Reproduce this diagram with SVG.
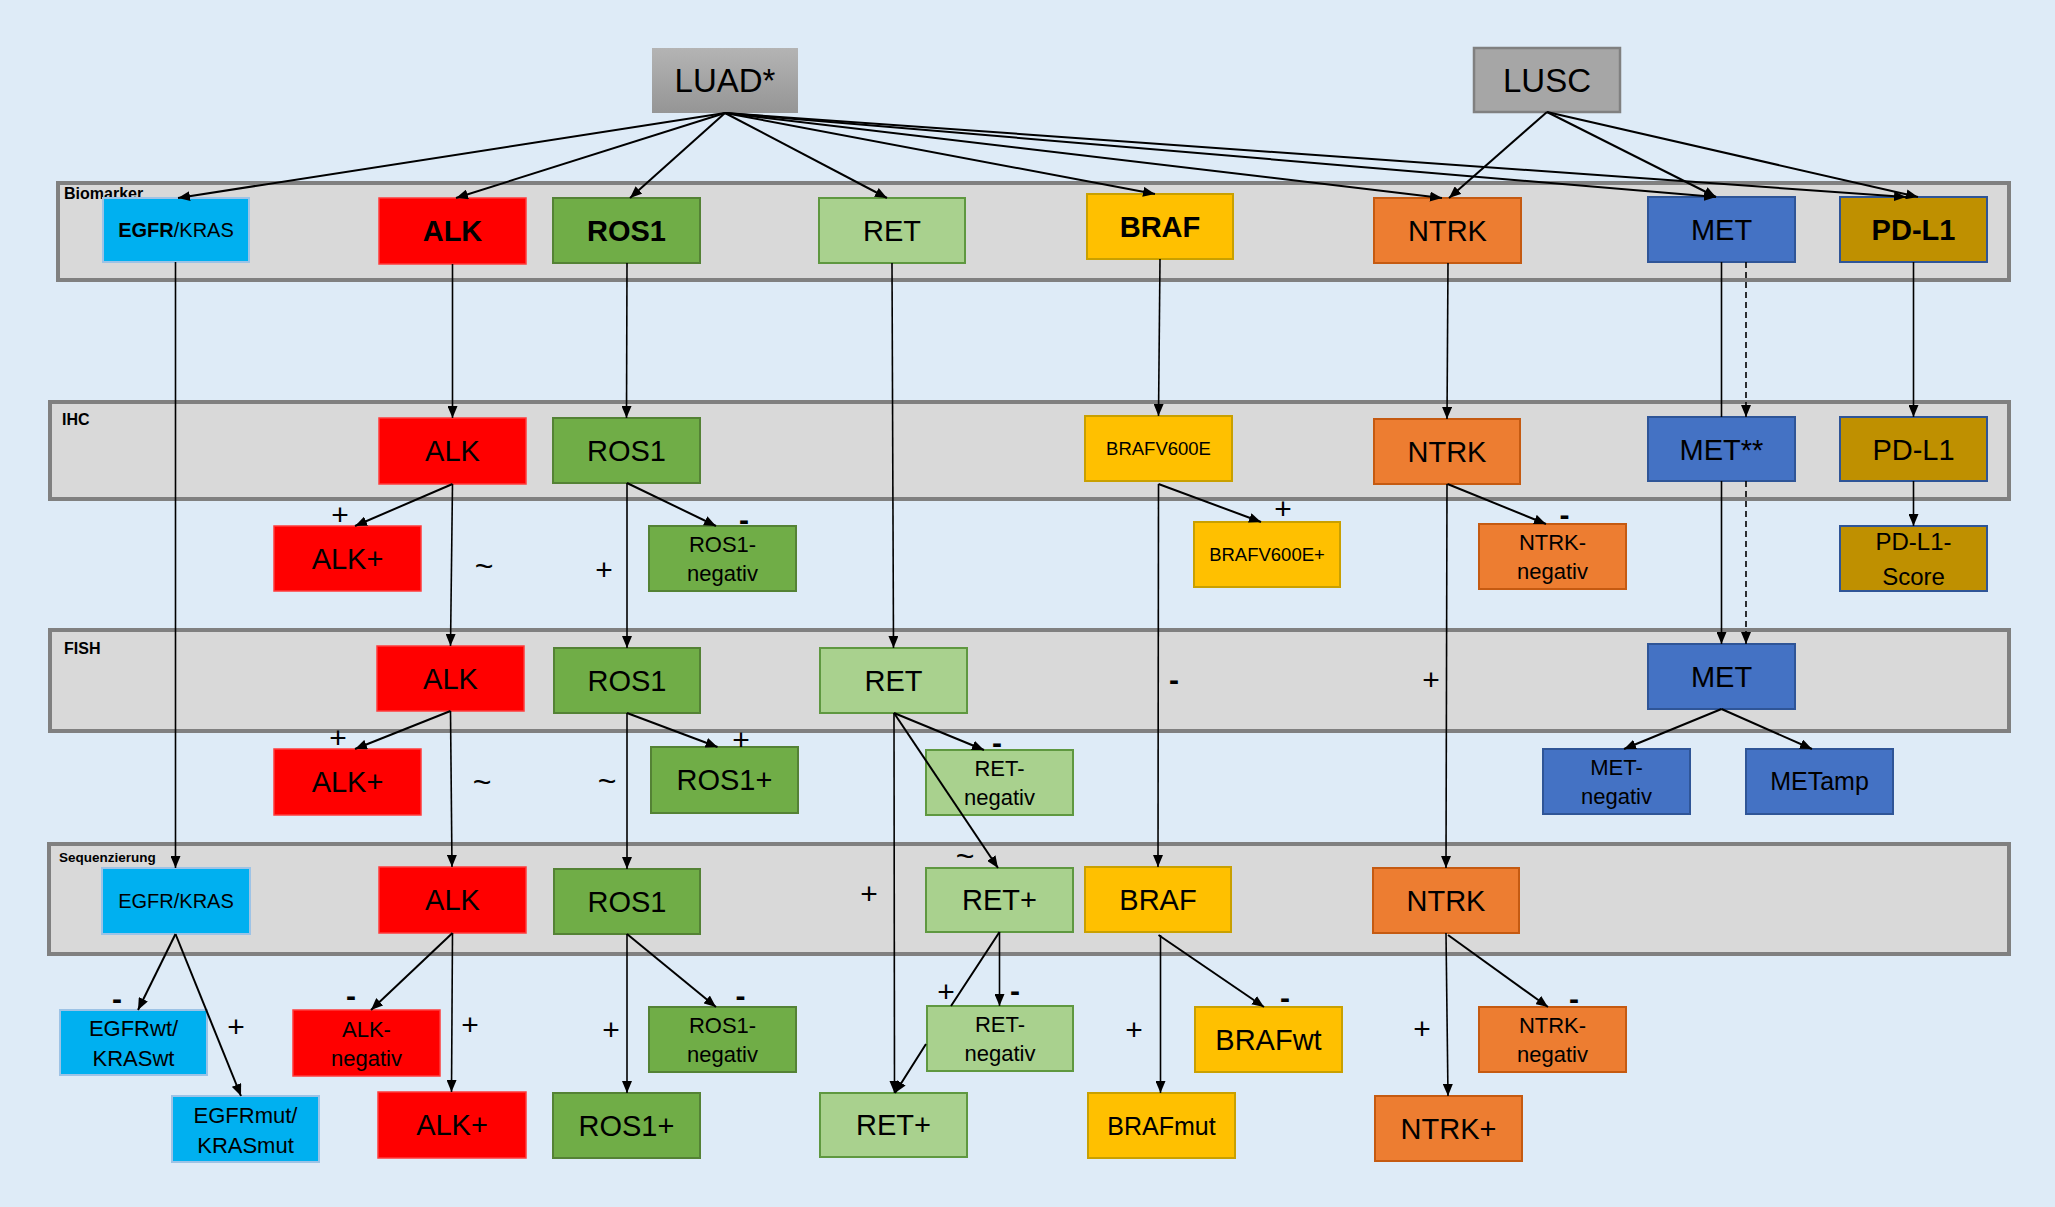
<svg xmlns="http://www.w3.org/2000/svg" width="2055" height="1207" viewBox="0 0 2055 1207">
<defs>
<linearGradient id="gLuad" x1="0" y1="0" x2="0" y2="1"><stop offset="0" stop-color="#b4b4b4"/><stop offset="1" stop-color="#959595"/></linearGradient>
<marker id="ah" viewBox="0 0 12 10" refX="12" refY="5" markerWidth="12" markerHeight="10" markerUnits="userSpaceOnUse" orient="auto"><path d="M0,0 L12,5 L0,10 z" fill="#000"/></marker>
<style>
text{font-family:"Liberation Sans",Arial,sans-serif;fill:#000}
.band{fill:#d9d9d9;stroke:#808080;stroke-width:4}
.bl{font-size:16px;font-weight:bold}
.egfr{fill:#00b0f0;stroke:#9dc3e6;stroke-width:2}
.alk{fill:#ff0000;stroke:#ff3b3b;stroke-width:1.5}
.ros{fill:#70ad47;stroke:#548235;stroke-width:2}
.ret{fill:#a9d18e;stroke:#5f9840;stroke-width:2}
.braf{fill:#ffc000;stroke:#c9a000;stroke-width:2}
.ntrk{fill:#ed7d31;stroke:#c55a11;stroke-width:2}
.met{fill:#4472c4;stroke:#2f5597;stroke-width:2}
.pdl{fill:#bf9000;stroke:#2f5597;stroke-width:2}
.lusc{fill:#a6a6a6;stroke:#808080;stroke-width:2.5}
.big{font-size:29px;text-anchor:middle}
.bigb{font-size:29px;font-weight:bold;text-anchor:middle}
.top{font-size:33px;text-anchor:middle}
.med{font-size:22px;text-anchor:middle}
.sm{font-size:18.5px;text-anchor:middle}
.sign{font-size:30px;text-anchor:middle}
.tilde{font-size:32px;text-anchor:middle}
.dash{font-size:30px;font-weight:bold;text-anchor:middle}
.c{fill:none;stroke:#000;stroke-width:2;marker-end:url(#ah)}
.v{fill:none;stroke:#000;stroke-width:1.6;marker-end:url(#ah)}
.d{fill:none;stroke:#000;stroke-width:1.6;stroke-dasharray:6,4;marker-end:url(#ah)}
</style>
</defs>
<rect width="2055" height="1207" fill="#deebf7"/>

<g id="bands">
<rect class="band" x="58" y="183" width="1951" height="97"/>
<text class="bl" x="64" y="199">Biomarker</text>
<rect class="band" x="50" y="402" width="1959" height="97"/>
<text class="bl" x="62" y="425">IHC</text>
<rect class="band" x="50" y="630" width="1959" height="101"/>
<text class="bl" x="64" y="654">FISH</text>
<rect class="band" x="49" y="844" width="1960" height="110"/>
<text class="bl" x="59" y="862" style="font-size:13.5px">Sequenzierung</text>
</g>

<g id="nodes">
<g id="luad"><rect x="652" y="48" width="146" height="65" fill="url(#gLuad)"/><text class="top" x="725" y="92">LUAD*</text></g>
<g id="lusc"><rect class="lusc" x="1474" y="48" width="146" height="64"/><text class="top" x="1547" y="92">LUSC</text></g>

<g id="egfr_bio"><rect class="egfr" x="103" y="198" width="146" height="64"/><text x="176" y="237" style="font-size:20px;text-anchor:middle"><tspan font-weight="bold">EGFR</tspan>/KRAS</text></g>
<g id="alk_bio"><rect class="alk" x="379" y="198" width="147" height="66"/><text class="bigb" x="452.5" y="241">ALK</text></g>
<g id="ros1_bio"><rect class="ros" x="553" y="198" width="147" height="65"/><text class="bigb" x="626.5" y="241">ROS1</text></g>
<g id="ret_bio"><rect class="ret" x="819" y="198" width="146" height="65"/><text class="big" x="892" y="241">RET</text></g>
<g id="braf_bio"><rect class="braf" x="1087" y="194" width="146" height="65"/><text class="bigb" x="1160" y="237">BRAF</text></g>
<g id="ntrk_bio"><rect class="ntrk" x="1374" y="198" width="147" height="65"/><text class="big" x="1447.5" y="241">NTRK</text></g>
<g id="met_bio"><rect class="met" x="1648" y="197" width="147" height="65"/><text class="big" x="1721.5" y="240">MET</text></g>
<g id="pdl1_bio"><rect class="pdl" x="1840" y="197" width="147" height="65"/><text class="bigb" x="1913.5" y="240">PD-L1</text></g>

<g id="alk_ihc"><rect class="alk" x="379" y="418" width="147" height="66"/><text class="big" x="452.5" y="461">ALK</text></g>
<g id="ros1_ihc"><rect class="ros" x="553" y="418" width="147" height="65"/><text class="big" x="626.5" y="461">ROS1</text></g>
<g id="brafv600e"><rect class="braf" x="1085" y="416" width="147" height="65"/><text class="sm" x="1158.5" y="455">BRAFV600E</text></g>
<g id="ntrk_ihc"><rect class="ntrk" x="1374" y="419" width="146" height="65"/><text class="big" x="1447" y="462">NTRK</text></g>
<g id="met_ihc"><rect class="met" x="1648" y="417" width="147" height="64"/><text class="big" x="1721.5" y="460">MET**</text></g>
<g id="pdl1_ihc"><rect class="pdl" x="1840" y="417" width="147" height="64"/><text class="big" x="1913.5" y="460">PD-L1</text></g>

<g id="alkpos_ihc"><rect class="alk" x="274" y="526" width="147" height="65"/><text class="big" x="347.5" y="569">ALK+</text></g>
<g id="ros1neg_ihc"><rect class="ros" x="649" y="526" width="147" height="65"/><text class="med" x="722.5"><tspan x="722.5" y="552">ROS1-</tspan><tspan x="722.5" y="581">negativ</tspan></text></g>
<g id="brafv600epos"><rect class="braf" x="1194" y="522" width="146" height="65"/><text class="sm" x="1267" y="561">BRAFV600E+</text></g>
<g id="ntrkneg_ihc"><rect class="ntrk" x="1479" y="524" width="147" height="65"/><text class="med" x="1552.5"><tspan x="1552.5" y="550">NTRK-</tspan><tspan x="1552.5" y="579">negativ</tspan></text></g>
<g id="pdl1score"><rect class="pdl" x="1840" y="526" width="147" height="65"/><text x="1913.5" style="font-size:24px;text-anchor:middle"><tspan x="1913.5" y="550">PD-L1-</tspan><tspan x="1913.5" y="585">Score</tspan></text></g>

<g id="alk_fish"><rect class="alk" x="377" y="646" width="147" height="65"/><text class="big" x="450.5" y="689">ALK</text></g>
<g id="ros1_fish"><rect class="ros" x="554" y="648" width="146" height="65"/><text class="big" x="627" y="691">ROS1</text></g>
<g id="ret_fish"><rect class="ret" x="820" y="648" width="147" height="65"/><text class="big" x="893.5" y="691">RET</text></g>
<g id="met_fish"><rect class="met" x="1648" y="644" width="147" height="65"/><text class="big" x="1721.5" y="687">MET</text></g>

<g id="alkpos_fish"><rect class="alk" x="274" y="749" width="147" height="66"/><text class="big" x="347.5" y="792">ALK+</text></g>
<g id="ros1pos_fish"><rect class="ros" x="651" y="747" width="147" height="66"/><text class="big" x="724.5" y="790">ROS1+</text></g>
<g id="retneg_fish"><rect class="ret" x="926" y="750" width="147" height="65"/><text class="med" x="999.5"><tspan x="999.5" y="776">RET-</tspan><tspan x="999.5" y="805">negativ</tspan></text></g>
<g id="metneg"><rect class="met" x="1543" y="749" width="147" height="65"/><text class="med" x="1616.5"><tspan x="1616.5" y="775">MET-</tspan><tspan x="1616.5" y="804">negativ</tspan></text></g>
<g id="metamp"><rect class="met" x="1746" y="749" width="147" height="65"/><text x="1819.5" y="790" style="font-size:25px;text-anchor:middle">METamp</text></g>

<g id="egfr_seq"><rect class="egfr" x="102" y="868" width="148" height="66"/><text x="176" y="908" style="font-size:20px;text-anchor:middle">EGFR/KRAS</text></g>
<g id="alk_seq"><rect class="alk" x="379" y="867" width="147" height="66"/><text class="big" x="452.5" y="910">ALK</text></g>
<g id="ros1_seq"><rect class="ros" x="554" y="869" width="146" height="65"/><text class="big" x="627" y="912">ROS1</text></g>
<g id="retpos_seq"><rect class="ret" x="926" y="868" width="147" height="64"/><text class="big" x="999.5" y="910">RET+</text></g>
<g id="braf_seq"><rect class="braf" x="1085" y="867" width="146" height="65"/><text class="big" x="1158" y="910">BRAF</text></g>
<g id="ntrk_seq"><rect class="ntrk" x="1373" y="868" width="146" height="65"/><text class="big" x="1446" y="911">NTRK</text></g>

<g id="egfrwt"><rect class="egfr" x="60" y="1010" width="147" height="65"/><text class="med" x="133.5"><tspan x="133.5" y="1036">EGFRwt/</tspan><tspan x="133.5" y="1066">KRASwt</tspan></text></g>
<g id="egfrmut"><rect class="egfr" x="172" y="1096" width="147" height="66"/><text class="med" x="245.5"><tspan x="245.5" y="1123">EGFRmut/</tspan><tspan x="245.5" y="1153">KRASmut</tspan></text></g>
<g id="alkneg"><rect class="alk" x="293" y="1010" width="147" height="66"/><text class="med" x="366.5"><tspan x="366.5" y="1037">ALK-</tspan><tspan x="366.5" y="1066">negativ</tspan></text></g>
<g id="alkpos_seq"><rect class="alk" x="378" y="1092" width="148" height="66"/><text class="big" x="452" y="1135">ALK+</text></g>
<g id="ros1neg_seq"><rect class="ros" x="649" y="1007" width="147" height="65"/><text class="med" x="722.5"><tspan x="722.5" y="1033">ROS1-</tspan><tspan x="722.5" y="1062">negativ</tspan></text></g>
<g id="ros1pos_seq"><rect class="ros" x="553" y="1093" width="147" height="65"/><text class="big" x="626.5" y="1136">ROS1+</text></g>
<g id="retneg_seq"><rect class="ret" x="927" y="1006" width="146" height="65"/><text class="med" x="1000"><tspan x="1000" y="1032">RET-</tspan><tspan x="1000" y="1061">negativ</tspan></text></g>
<g id="retpos_bottom"><rect class="ret" x="820" y="1093" width="147" height="64"/><text class="big" x="893.5" y="1135">RET+</text></g>
<g id="brafwt"><rect class="braf" x="1195" y="1007" width="147" height="65"/><text class="big" x="1268.5" y="1050">BRAFwt</text></g>
<g id="brafmut"><rect class="braf" x="1088" y="1093" width="147" height="65"/><text x="1161.5" y="1135" style="font-size:25px;text-anchor:middle">BRAFmut</text></g>
<g id="ntrkneg_seq"><rect class="ntrk" x="1479" y="1007" width="147" height="65"/><text class="med" x="1552.5"><tspan x="1552.5" y="1033">NTRK-</tspan><tspan x="1552.5" y="1062">negativ</tspan></text></g>
<g id="ntrkpos"><rect class="ntrk" x="1375" y="1096" width="147" height="65"/><text class="big" x="1448.5" y="1139">NTRK+</text></g>
</g>

<g id="connectors">
<path class="c" d="M725,113 L178,198"/>
<path class="c" d="M725,113 L456,198"/>
<path class="c" d="M725,113 L630,198"/>
<path class="c" d="M725,113 L887,198"/>
<path class="c" d="M725,113 L1155,194"/>
<path class="c" d="M725,113 L1442,198"/>
<path class="c" d="M725,113 L1716,197"/>
<path class="c" d="M725,113 L1906,197"/>
<path class="c" d="M1547,112 L1449,198"/>
<path class="c" d="M1547,112 L1716,197"/>
<path class="c" d="M1547,112 L1918,197"/>

<path class="v" d="M175.5,262 L175.5,868"/>
<path class="v" d="M452.5,264 L452.5,418"/>
<path class="v" d="M627,263 L626.5,418"/>
<path class="v" d="M892,263 L893.5,648"/>
<path class="v" d="M1160,259 L1158.5,416"/>
<path class="v" d="M1448,263 L1447,419"/>
<path class="v" d="M1721.5,262 L1721.5,417 M1721.5,481 L1721.5,644"/>
<path class="d" d="M1746,262 L1746,417"/>
<path class="d" d="M1746,481 L1746,644"/>
<path class="v" d="M1913.5,262 L1913.5,417"/>
<path class="v" d="M1913.5,481 L1913.5,526"/>

<path class="c" d="M452.5,484 L355,526"/>
<path class="v" d="M452.5,484 L450.5,646"/>
<path class="c" d="M627,483 L716,526"/>
<path class="v" d="M627,483 L627,648"/>
<path class="c" d="M1158.5,484 L1261,522"/>
<path class="v" d="M1158.5,484 L1158,867"/>
<path class="c" d="M1447.5,484 L1546,524"/>
<path class="v" d="M1447,484 L1446,868"/>

<path class="c" d="M450.5,711 L355,749"/>
<path class="v" d="M450.5,711 L452,867"/>
<path class="c" d="M627,713 L717.5,747"/>
<path class="v" d="M627,713 L627,869"/>
<path class="c" d="M894,713 L984,750"/>
<path class="c" d="M894,713 L998,868"/>
<path class="v" d="M894,713 L894.5,1093"/>
<path class="c" d="M1721.5,709 L1624,749"/>
<path class="c" d="M1721.5,709 L1812,749"/>

<path class="c" d="M175.5,934 L138,1010"/>
<path class="c" d="M175.5,934 L241,1096"/>
<path class="c" d="M452.5,933 L371,1010"/>
<path class="v" d="M452.5,933 L451.5,1092"/>
<path class="c" d="M627,934 L716,1007"/>
<path class="v" d="M627,934 L627,1093"/>
<path class="v" d="M999.5,932 L999.5,1006"/>
<path class="c" d="M999.5,932 L951,1006 M926,1044 L895,1093"/>
<path class="c" d="M1158.5,935 L1264,1007"/>
<path class="v" d="M1160.5,935 L1160.5,1093"/>
<path class="c" d="M1448,935 L1548,1007"/>
<path class="v" d="M1446,933 L1448,1096"/>
</g>

<g id="signs">
<text class="sign" x="340" y="525">+</text>
<text class="tilde" x="484" y="577">~</text>
<text class="sign" x="604" y="580">+</text>
<text class="dash" x="744" y="530">-</text>
<text class="sign" x="1283" y="519">+</text>
<text class="dash" x="1564.5" y="525">-</text>
<text class="sign" x="338" y="748">+</text>
<text class="tilde" x="482" y="793">~</text>
<text class="tilde" x="607" y="792">~</text>
<text class="sign" x="741" y="750">+</text>
<text class="dash" x="997" y="753">-</text>
<text class="dash" x="1174" y="690">-</text>
<text class="sign" x="1431" y="690">+</text>
<text class="tilde" x="965" y="867">~</text>
<text class="sign" x="869" y="904">+</text>
<text class="sign" x="946" y="1002">+</text>
<text class="dash" x="1015" y="1001">-</text>
<text class="dash" x="117" y="1009">-</text>
<text class="sign" x="236" y="1037">+</text>
<text class="dash" x="351" y="1006">-</text>
<text class="sign" x="470" y="1035">+</text>
<text class="sign" x="611" y="1040">+</text>
<text class="dash" x="740.5" y="1006">-</text>
<text class="sign" x="1134" y="1040">+</text>
<text class="dash" x="1285" y="1008">-</text>
<text class="sign" x="1422" y="1039">+</text>
<text class="dash" x="1574" y="1009">-</text>
</g>
</svg>
